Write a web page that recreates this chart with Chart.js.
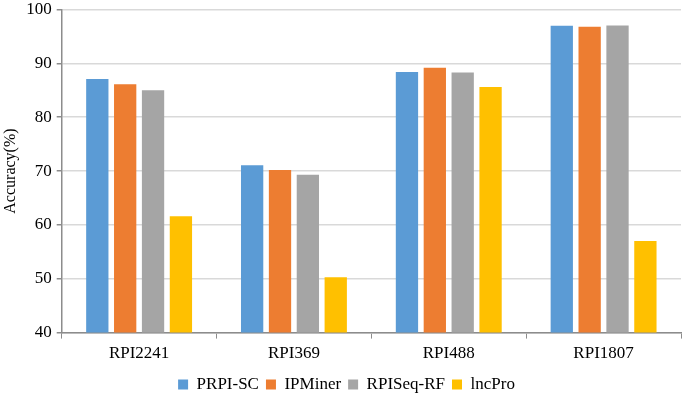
<!DOCTYPE html>
<html>
<head>
<meta charset="utf-8">
<script src="https://cdn.jsdelivr.net/npm/chart.js@4/dist/chart.umd.min.js"></script>
<style>
  html, body { margin: 0; padding: 0; background: #fff; overflow: hidden; }
  #clip { width: 685px; height: 394px; overflow: hidden; }
  /* canvas slightly bigger than the window so the plot lines up with the original */
  #wrap { width: 685px; height: 407px; margin-top: -4px; position: relative; }
</style>
</head>
<body>
<div id="clip"><div id="wrap"><canvas id="accChart"></canvas></div></div>
<script>
  'use strict';

  var datasetsNames = ['RPI2241', 'RPI369', 'RPI488', 'RPI1807'];
  var prpiSC = [87.1, 71.1, 88.4, 97.0];
  var ipMiner = [86.1, 70.2, 89.2, 96.8];
  var rpiSeqRF = [85.0, 69.3, 88.3, 97.05];
  var lncPro = [61.6, 50.3, 85.6, 57.0];
  var yTicks = [40, 50, 60, 70, 80, 90, 100];

  var serif = '"Liberation Serif", "Times New Roman", serif';

  function series(label, data, color) {
    return {
      label: label,
      data: data,
      backgroundColor: color,
      borderWidth: 0,
      categoryPercentage: 0.72,
      barPercentage: 0.8
    };
  }

  // nudge the legend a bit to the right, it is not centred on the canvas in the original
  var legendShift = {
    id: 'legendShift',
    afterLayout: function (chart) {
      if (chart.legend) {
        chart.legend.left += 6;
        chart.legend.right += 6;
      }
    }
  };

  new Chart(document.getElementById('accChart'), {
    type: 'bar',
    data: {
      labels: datasetsNames,
      datasets: [
        series('PRPI-SC', prpiSC, '#5b9bd5'),
        series('IPMiner', ipMiner, '#ed7d31'),
        series('RPISeq-RF', rpiSeqRF, '#a5a5a5'),
        series('lncPro', lncPro, '#ffc000')
      ]
    },
    plugins: [legendShift],
    options: {
      responsive: true,
      maintainAspectRatio: false,
      animation: false,
      layout: { padding: { top: 1.5, right: 4, left: 0, bottom: 0 } },
      plugins: {
        tooltip: { enabled: false },
        legend: {
          position: 'bottom',
          labels: {
            boxWidth: 10,
            boxHeight: 10,
            padding: 7,
            color: '#000',
            font: { family: serif, size: 17 }
          }
        }
      },
      scales: {
        x: {
          border: { color: '#8c8c8c', width: 1.5 },
          grid: {
            display: true,
            drawOnChartArea: false,
            drawTicks: true,
            tickLength: 6,
            color: '#8c8c8c'
          },
          ticks: {
            color: '#000',
            padding: 5,
            font: { family: serif, size: 17 }
          }
        },
        y: {
          min: yTicks[0],
          max: yTicks[yTicks.length - 1],
          afterBuildTicks: function (axis) {
            axis.ticks = yTicks.map(function (v) { return { value: v }; });
          },
          border: { color: '#8c8c8c', width: 1.5 },
          grid: {
            color: '#d9d9d9',
            lineWidth: 1.5,
            tickColor: '#8c8c8c',
            tickLength: 5
          },
          ticks: {
            color: '#000',
            padding: 5,
            font: { family: serif, size: 17, lineHeight: 1 }
          },
          title: {
            display: true,
            text: 'Accuracy(%)',
            color: '#000',
            padding: 1,
            font: { family: serif, size: 16 }
          }
        }
      }
    }
  });
</script>
</body>
</html>
